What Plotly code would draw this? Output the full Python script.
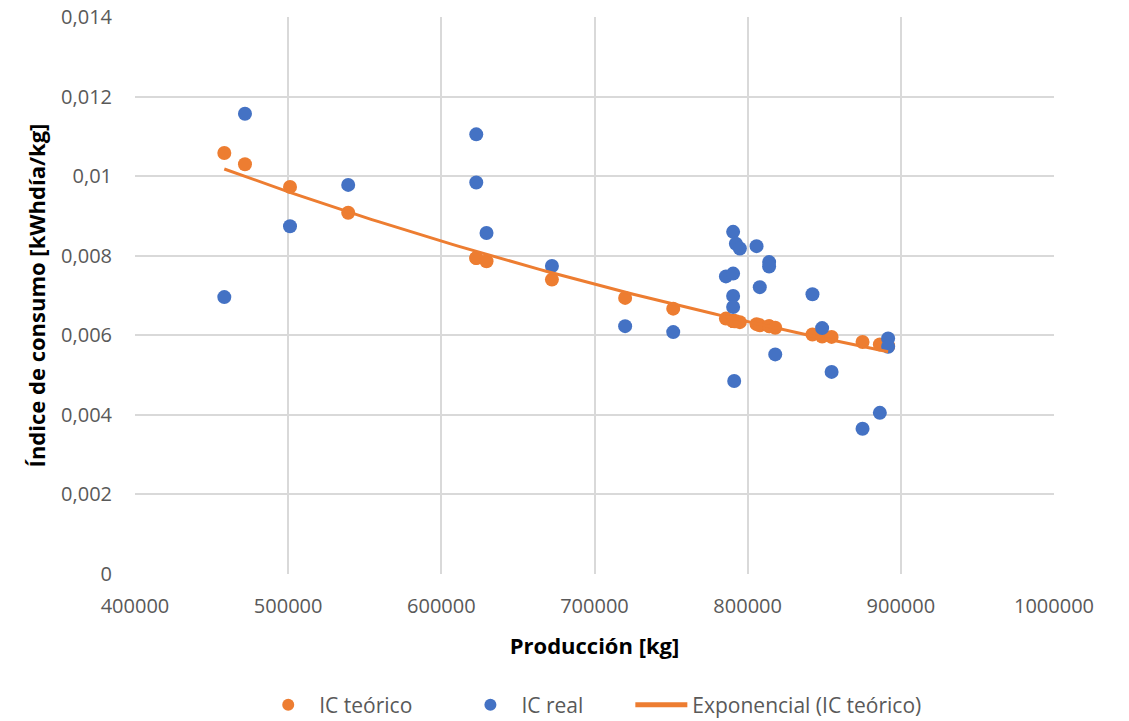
import numpy as np
import plotly.graph_objects as go

# Production [kg]
produccion = [458300, 471800, 501200, 539200, 622800, 622800, 629500, 672200,
              720000, 751400, 785800, 790500, 790500, 790500, 790500, 791200,
              792300, 794900, 805800, 807900, 814000, 814000, 818000, 842300,
              848600, 854800, 875000, 886300, 891700, 891700]
# Theoretical consumption index
ic_teorico = [0.01058, 0.01030, 0.00973, 0.00908, 0.00794, 0.00794, 0.00786, 0.00740,
              0.00694, 0.00667, 0.00642, 0.00636, 0.00636, 0.00636, 0.00636, 0.00635,
              0.00635, 0.00633, 0.00628, 0.00625, 0.00623, 0.00623, 0.00619, 0.00602,
              0.00597, 0.00596, 0.00583, 0.00577, 0.00573, 0.00573]
# Real consumption index
ic_real = [0.00696, 0.01157, 0.00874, 0.00978, 0.01105, 0.00984, 0.00857, 0.00774,
           0.00623, 0.00608, 0.00748, 0.00860, 0.00755, 0.00699, 0.00671, 0.00485,
           0.00830, 0.00818, 0.00824, 0.00721, 0.00784, 0.00773, 0.00552, 0.00703,
           0.00618, 0.00508, 0.00365, 0.00405, 0.00592, 0.00571]

x_ticks = [400000, 500000, 600000, 700000, 800000, 900000, 1000000]
y_ticks = [0, 0.002, 0.004, 0.006, 0.008, 0.01, 0.012, 0.014]
y_labels = ["0", "0,002", "0,004", "0,006", "0,008", "0,01", "0,012", "0,014"]

ORANGE = "#ED7D31"
BLUE = "#4472C4"
FONT = "Open Sans, sans-serif"
GREY = "#595959"

# Exponential trendline fitted to IC teórico (as Excel does)
xa = np.array(produccion, dtype=float)
ya = np.array(ic_teorico, dtype=float)
b, lna = np.polyfit(xa, np.log(ya), 1)
xt = np.linspace(xa.min(), xa.max(), 100)
yt = np.exp(lna) * np.exp(b * xt)

fig = go.Figure()
fig.add_trace(go.Scatter(x=produccion, y=ic_teorico, mode="markers", name="IC teórico",
                         marker=dict(color=ORANGE, size=14), legend="legend"))
fig.add_trace(go.Scatter(x=produccion, y=ic_real, mode="markers", name="IC real",
                         marker=dict(color=BLUE, size=14), legend="legend2"))
fig.add_trace(go.Scatter(x=xt, y=yt, mode="lines", name="Exponencial (IC teórico)",
                         line=dict(color=ORANGE, width=3), legend="legend3"))

leg_common = dict(orientation="h", yref="container", y=0.0222, yanchor="middle",
                  xanchor="left",
                  font=dict(family=FONT, size=21, color=GREY), itemwidth=52,
                  itemsizing="constant", bgcolor="rgba(0,0,0,0)")

fig.update_layout(
    width=1129, height=721,
    paper_bgcolor="white", plot_bgcolor="white",
    margin=dict(l=135, r=75, t=17, b=147),
    separators=",.",
    font=dict(family=FONT, size=20, color=GREY),
    showlegend=True,
    legend=dict(x=0.133, **leg_common),
    legend2=dict(x=0.353, **leg_common),
    legend3=dict(x=0.539, **leg_common),
    xaxis=dict(range=[400000, 1000000], tickvals=x_ticks, tickformat="d",
               showgrid=True, gridcolor="#d9d9d9", gridwidth=1.5,
               zeroline=False, showline=False, automargin=False,
               ticks="outside", ticklen=14, tickcolor="rgba(0,0,0,0)",
               tickfont=dict(family=FONT, size=20, color=GREY),
               title=dict(text="<b>Producción [kg]</b>", standoff=20,
                          font=dict(family=FONT, size=22, color="black"))),
    yaxis=dict(range=[0, 0.014], tickvals=y_ticks, ticktext=y_labels,
               showgrid=True, gridcolor="#d9d9d9",
               gridwidth=1.5, zeroline=False, showline=False, automargin=False,
               ticks="outside", ticklen=18, tickcolor="rgba(0,0,0,0)",
               tickfont=dict(family=FONT, size=20, color=GREY),
               title=dict(text="<b>Índice de consumo [kWhdía/kg]</b>", standoff=9,
                          font=dict(family=FONT, size=22, color="black"))),
)

fig.write_html("out.html", config={"displayModeBar": False},
               post_script="document.body.style.margin='0';")
